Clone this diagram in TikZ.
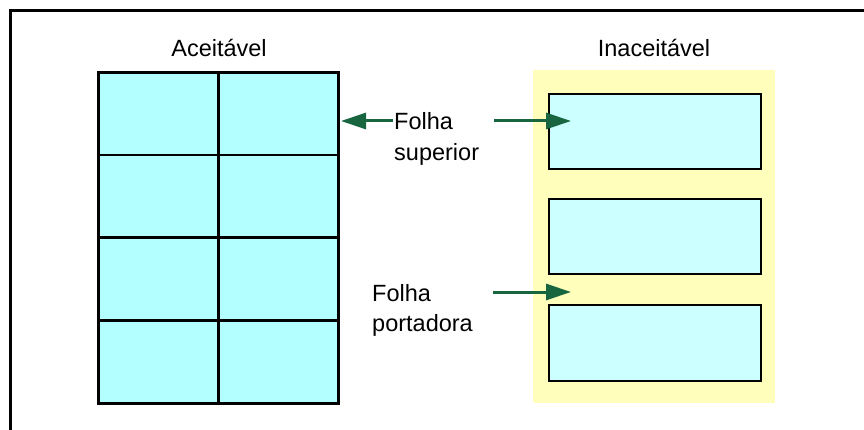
\documentclass[tikz,border=0pt]{standalone}
\usepackage{fontspec}
\setmainfont{Liberation Sans}
\usetikzlibrary{arrows.meta}
\definecolor{gridfill}{HTML}{B3FFFF}
\definecolor{sheetfill}{HTML}{CCFFFF}
\definecolor{carrier}{HTML}{FFFFBB}
\definecolor{arrowgreen}{HTML}{17663F}
\tikzset{
  lbl/.style={inner sep=0pt, font=\fontsize{23.5}{28}\selectfont},
  cell/.style={draw=black, line width=2.7pt, fill=gridfill, inner sep=0pt, minimum width=120pt, minimum height=83pt},
  sheet/.style={draw=black, line width=2pt, fill=sheetfill, inner sep=0pt, minimum width=212pt},
  pointer/.style={draw=arrowgreen, line width=3pt, -{Triangle[length=25pt,width=16pt]}}
}
\begin{document}
\begin{tikzpicture}[x=1pt,y=-1pt]
\useasboundingbox (0,0) rectangle (864,430);
% outer frame: top and left edges only
\draw[line width=3pt] (864,11) -- (10.5,11) -- (10.5,430);

% acceptable sheet: 2 x 4 labels
\foreach \r [count=\i] in {0,1,2,3}{
  \foreach \c [count=\j] in {0,1}{
    \node[cell, anchor=north west] (c\i\j) at ({97+120*\c},{71+82.75*\r}) {};
  }
}
\node[lbl, anchor=base] (acc) at (219,57) {Aceitável};

% unacceptable sheet: carrier exposed between labels
\fill[carrier] (533,70) rectangle (775,403);
\node[sheet, minimum height=75pt, anchor=north west] (s1) at (548,93) {};
\node[sheet, minimum height=75pt, anchor=north west] (s2) at (548,198) {};
\node[sheet, minimum height=76pt, anchor=north west] (s3) at (548,304) {};
\node[lbl, anchor=base] (inacc) at (654,57) {Inaceitável};

% labels
\node[lbl, anchor=base west] (fs1) at (394,130) {Folha};
\node[lbl, anchor=base west] (fs2) at (394,161) {superior};
\node[lbl, anchor=base west] (fp1) at (372,301) {Folha};
\node[lbl, anchor=base west] (fp2) at (372,331) {portadora};

% pointers
\coordinate (a1s) at (393,121);
\coordinate (a1e) at (341,121);
\coordinate (a2s) at (494,121);
\coordinate (a2e) at (571,121);
\coordinate (a3s) at (493,292);
\coordinate (a3e) at (571,292);
\draw[pointer] (a1s) -- (a1e);
\draw[pointer] (a2s) -- (a2e);
\draw[pointer] (a3s) -- (a3e);
\end{tikzpicture}
\end{document}
